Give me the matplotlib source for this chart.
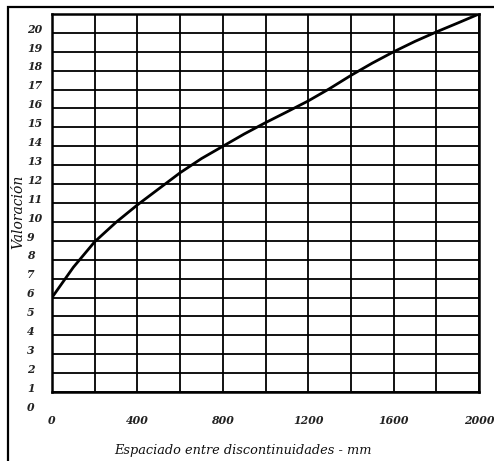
import matplotlib
matplotlib.use("Agg")
import matplotlib.pyplot as plt
from matplotlib.patches import Rectangle

# data
spacing_mm = [0, 100, 200, 300, 400, 500, 600, 700, 800, 900, 1000,
              1100, 1200, 1300, 1400, 1500, 1600, 1700, 1800, 1900, 2000]
rating = [6.0, 7.6, 8.95, 9.98, 10.9, 11.75, 12.6, 13.35, 14.0, 14.65, 15.25,
          15.82, 16.4, 17.05, 17.75, 18.4, 19.0, 19.55, 20.05, 20.52, 21.0]
x_tick_values = [0, 400, 800, 1200, 1600, 2000]
y_tick_labels = [str(i) for i in range(21)]
x_label = "Espaciado entre discontinuidades - mm"
y_label = "Valoración"

W, H = 494, 461
fig = plt.figure(figsize=(W / 100, H / 100), dpi=100)
fig.patch.set_facecolor("white")

# outer frame (right/bottom cut by image edge)
fig.patches.append(Rectangle((8 / W, -0.05), 1.2, 1 - 7 / H + 0.05,
                             transform=fig.transFigure, fill=False,
                             edgecolor="black", linewidth=1.6))

left, right = 52 / W, 479 / W
bottom, top = 1 - 392 / H, 1 - 14 / H
ax = fig.add_axes([left, bottom, right - left, top - bottom])
ax.set_xlim(0, 2000)
ax.set_ylim(1, 21)

ax.set_xticks(range(0, 2001, 200))
ax.set_yticks(range(1, 22))
ax.grid(True, color="black", linewidth=1.3)
ax.tick_params(length=0, labelbottom=False, labelleft=False)
for s in ax.spines.values():
    s.set_linewidth(1.8)

ax.plot(spacing_mm, rating, color="black", linewidth=2.0, zorder=5,
        solid_joinstyle="round")

fnt = dict(family="DejaVu Serif", style="italic", weight="bold",
           fontsize=7.8, color="#222222")

# y tick labels (placed slightly above each gridline)
trans_y = ax.get_yaxis_transform()
for i, lab in enumerate(y_tick_labels):
    ax.text(-(left * W - 27) / (right * W - left * W), i + 0.2, lab,
            transform=trans_y, ha="left", va="center", clip_on=False, **fnt)

# x tick labels
trans_x = ax.get_xaxis_transform()
for v in x_tick_values:
    ax.text(v, -(420 - 392) / (392 - 14), str(v), transform=trans_x,
            ha="center", va="center", clip_on=False, **fnt)

fig.text(243 / W, 1 - 450 / H, x_label, ha="center", va="center",
         family="DejaVu Serif", style="italic", fontsize=9.3, color="#111111")
fig.text(18 / W, 1 - 212 / H, y_label, ha="center", va="center",
         rotation=90, family="DejaVu Serif", style="italic", fontsize=10,
         color="#111111")

fig.savefig("out.png", dpi=100)
